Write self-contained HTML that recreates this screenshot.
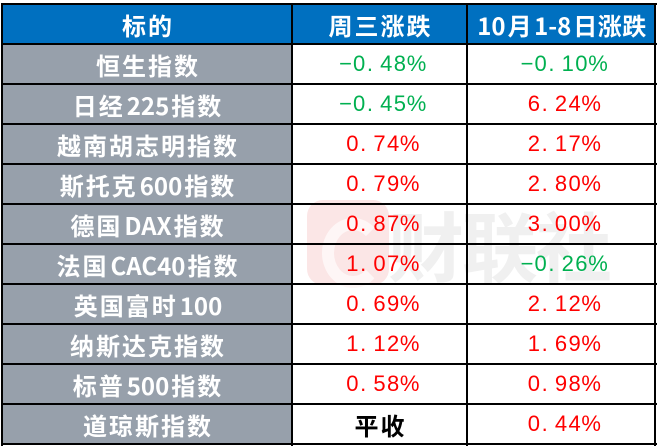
<!DOCTYPE html>
<html><head><meta charset="utf-8">
<style>
html,body{margin:0;padding:0;}
body{width:660px;height:448px;position:relative;background:#fff;overflow:hidden;}
.a{position:absolute;}
.h{position:absolute;left:1px;width:656px;height:2px;background:#000;}
.v{position:absolute;top:3px;width:2px;height:443px;background:#000;}
.c{position:absolute;display:flex;align-items:center;justify-content:center;height:40px;white-space:nowrap;}
.n{font-family:"Noto Sans CJK SC","Liberation Sans",sans-serif;font-weight:bold;font-size:24px;color:#fff;letter-spacing:2px;text-indent:2px;}
.n b{font-weight:bold;letter-spacing:0;}
.val{font-family:"Liberation Sans",sans-serif;font-size:22px;}
.val i{font-style:normal;display:inline-block;width:13.6px;text-align:center;}
.val i.d{text-align:left;text-indent:1px;}
.g{color:#00B050;}
.r{color:#FF0000;}
.c1{left:2px;width:290px;}
.c2{left:292px;width:175px;}
.c3{left:467px;width:188px;}
</style></head>
<body>
<div class="a" style="left:2px;top:4px;width:653px;height:40px;background:#0070C0;"></div>
<div class="a" style="left:2px;top:44px;width:290px;height:400px;background:#97A0AB;"></div>

<!-- watermark -->
<div class="a" style="left:307px;top:200px;width:82px;height:85px;border-radius:16px;background:#FBE6E6;"></div>
<div class="a" style="left:322px;top:218px;width:38px;height:46px;border:12px solid #FEF6F6;border-right-color:transparent;border-radius:50%;"></div>
<div class="a" style="left:388px;top:193px;font-family:'Noto Sans CJK SC',sans-serif;font-weight:bold;font-size:76px;line-height:100px;color:#F0F0F0;letter-spacing:-2px;">财联社</div>

<div class="h" style="top:3px"></div>
<div class="h" style="top:43px"></div>
<div class="h" style="top:83px"></div>
<div class="h" style="top:123px"></div>
<div class="h" style="top:163px"></div>
<div class="h" style="top:203px"></div>
<div class="h" style="top:243px"></div>
<div class="h" style="top:283px"></div>
<div class="h" style="top:323px"></div>
<div class="h" style="top:363px"></div>
<div class="h" style="top:403px"></div>
<div class="h" style="top:443px"></div>
<div class="v" style="left:1px"></div>
<div class="v" style="left:291px"></div>
<div class="v" style="left:466px"></div>
<div class="v" style="left:654px"></div>

<!-- header -->
<div class="c c1 n" style="top:4px">标的</div>
<div class="c c2 n" style="top:4px">周三涨跌</div>
<div class="c c3 n" style="top:4px;letter-spacing:0.5px;"><b>10</b>月<b>1-8</b>日涨跌</div>

<!-- rows -->
<div class="c c1 n" style="top:44px">恒生指数</div>
<div class="c c2 val g" style="top:44px"><i>−</i><i>0</i><i class="d">.</i><i>4</i><i>8</i><i>%</i></div>
<div class="c c3 val g" style="top:44px"><i>−</i><i>0</i><i class="d">.</i><i>1</i><i>0</i><i>%</i></div>

<div class="c c1 n" style="top:84px">日经<b>225</b>指数</div>
<div class="c c2 val g" style="top:84px"><i>−</i><i>0</i><i class="d">.</i><i>4</i><i>5</i><i>%</i></div>
<div class="c c3 val r" style="top:84px"><i>6</i><i class="d">.</i><i>2</i><i>4</i><i>%</i></div>

<div class="c c1 n" style="top:124px">越南胡志明指数</div>
<div class="c c2 val r" style="top:124px"><i>0</i><i class="d">.</i><i>7</i><i>4</i><i>%</i></div>
<div class="c c3 val r" style="top:124px"><i>2</i><i class="d">.</i><i>1</i><i>7</i><i>%</i></div>

<div class="c c1 n" style="top:164px">斯托克<b>600</b>指数</div>
<div class="c c2 val r" style="top:164px"><i>0</i><i class="d">.</i><i>7</i><i>9</i><i>%</i></div>
<div class="c c3 val r" style="top:164px"><i>2</i><i class="d">.</i><i>8</i><i>0</i><i>%</i></div>

<div class="c c1 n" style="top:204px">德国<b>DAX</b>指数</div>
<div class="c c2 val r" style="top:204px"><i>0</i><i class="d">.</i><i>8</i><i>7</i><i>%</i></div>
<div class="c c3 val r" style="top:204px"><i>3</i><i class="d">.</i><i>0</i><i>0</i><i>%</i></div>

<div class="c c1 n" style="top:244px">法国<b>CAC40</b>指数</div>
<div class="c c2 val r" style="top:244px"><i>1</i><i class="d">.</i><i>0</i><i>7</i><i>%</i></div>
<div class="c c3 val g" style="top:244px"><i>−</i><i>0</i><i class="d">.</i><i>2</i><i>6</i><i>%</i></div>

<div class="c c1 n" style="top:284px">英国富时<b>100</b></div>
<div class="c c2 val r" style="top:284px"><i>0</i><i class="d">.</i><i>6</i><i>9</i><i>%</i></div>
<div class="c c3 val r" style="top:284px"><i>2</i><i class="d">.</i><i>1</i><i>2</i><i>%</i></div>

<div class="c c1 n" style="top:324px">纳斯达克指数</div>
<div class="c c2 val r" style="top:324px"><i>1</i><i class="d">.</i><i>1</i><i>2</i><i>%</i></div>
<div class="c c3 val r" style="top:324px"><i>1</i><i class="d">.</i><i>6</i><i>9</i><i>%</i></div>

<div class="c c1 n" style="top:364px">标普<b>500</b>指数</div>
<div class="c c2 val r" style="top:364px"><i>0</i><i class="d">.</i><i>5</i><i>8</i><i>%</i></div>
<div class="c c3 val r" style="top:364px"><i>0</i><i class="d">.</i><i>9</i><i>8</i><i>%</i></div>

<div class="c c1 n" style="top:404px">道琼斯指数</div>
<div class="c c2 n" style="top:404px;color:#000;">平收</div>
<div class="c c3 val r" style="top:404px"><i>0</i><i class="d">.</i><i>4</i><i>4</i><i>%</i></div>
</body></html>
